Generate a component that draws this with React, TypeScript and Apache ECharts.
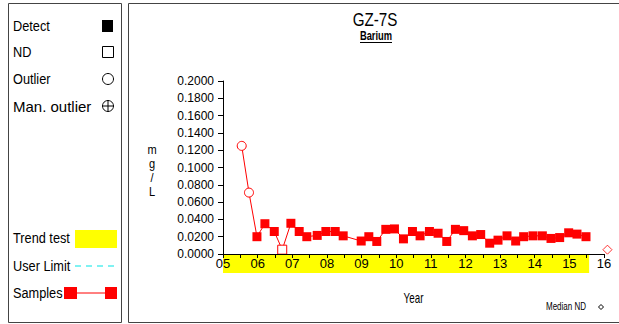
import React, { useEffect, useRef } from "react";
import * as echarts from "echarts";

// ---- data ----
const sampleDates = [
  2005.54, 2005.75, 2005.98, 2006.21, 2006.48, 2006.71, 2006.96, 2007.2, 2007.42, 2007.72,
  2007.97, 2008.24, 2008.47, 2008.99, 2009.21, 2009.44, 2009.7, 2009.95, 2010.21, 2010.47,
  2010.69, 2010.96, 2011.21, 2011.46, 2011.71, 2011.95, 2012.2, 2012.44, 2012.7, 2012.94,
  2013.2, 2013.45, 2013.68, 2013.95, 2014.22, 2014.47, 2014.72, 2014.98, 2015.22, 2015.48,
];
const sampleValues = [
  0.125, 0.071, 0.02, 0.035, 0.026, 0.005, 0.0355, 0.026, 0.02, 0.0215,
  0.026, 0.026, 0.021, 0.015, 0.02, 0.0145, 0.0285, 0.029, 0.0175, 0.026,
  0.021, 0.026, 0.024, 0.0145, 0.0285, 0.027, 0.021, 0.0225, 0.0125, 0.016,
  0.021, 0.015, 0.02, 0.021, 0.021, 0.018, 0.019, 0.0245, 0.023, 0.02,
];
// D = detect, N = non-detect, O = outlier
const sampleKinds = [
  "O", "O", "D", "D", "D", "N", "D", "D", "D", "D",
  "D", "D", "D", "D", "D", "D", "D", "D", "D", "D",
  "D", "D", "D", "D", "D", "D", "D", "D", "D", "D",
  "D", "D", "D", "D", "D", "D", "D", "D", "D", "D",
];
const medianND = [2016.1, 0.005];
const trendRange = [2005.0, 2015.57];
const xMin = 2005;
const xMax = 2016;
const yMin = 0;
const yMax = 0.2;
const title = "GZ-7S";
const subtitle = "Barium";
const yAxisName = "m\ng\n/\nL";
const xAxisName = "Year";
const legendLabels = ["Detect", "ND", "Outlier", "Man. outlier", "Trend test", "User Limit", "Samples"];

const RED = "#ff0000";
const ARIAL = '"Liberation Sans", Arial, sans-serif';

function txt(
  text: string,
  x: number,
  y: number,
  font: string,
  sx = 1,
  align = "left",
  extra: any = {}
) {
  return {
    type: "text",
    z: 20,
    x,
    y,
    scaleX: sx,
    style: {
      text,
      x: 0,
      y: 0,
      font,
      fill: "#000",
      align,
      textAlign: align,
      verticalAlign: "middle",
      textVerticalAlign: "middle",
      ...extra,
    },
  };
}

export default function App() {
  const ref = useRef<HTMLDivElement>(null);
  useEffect(() => {
    if (!ref.current) return;
    const chart = echarts.init(ref.current, null, { renderer: "svg" });

    const lineData = sampleDates.map((d, i) => {
      const k = sampleKinds[i];
      if (k === "O") {
        return {
          value: [d, sampleValues[i]],
          symbol: "circle",
          symbolSize: 9,
          itemStyle: { color: "#fff", borderColor: RED, borderWidth: 1 },
        };
      }
      if (k === "N") {
        return {
          value: [d, sampleValues[i]],
          symbol: "rect",
          symbolSize: 9,
          itemStyle: { color: "#fff", borderColor: RED, borderWidth: 1 },
        };
      }
      return {
        value: [d, sampleValues[i]],
        symbol: "rect",
        symbolSize: 9,
        itemStyle: { color: RED, borderColor: RED, borderWidth: 0 },
      };
    });

    chart.setOption({
      animation: false,
      backgroundColor: "#fff",
      grid: { left: 223, top: 81, width: 381, height: 173, containLabel: false },
      xAxis: {
        type: "value",
        min: xMin,
        max: xMax,
        interval: 0.5,
        z: 10,
        axisLine: { show: true, lineStyle: { color: "#000", width: 1 } },
        axisTick: { show: true, length: 4, lineStyle: { color: "#000" } },
        splitLine: { show: false },
        axisLabel: {
          margin: 3,
          color: "#000",
          fontFamily: ARIAL,
          fontSize: 13,
          showMinLabel: true,
          showMaxLabel: true,
          formatter: (v: number) =>
            Math.abs(v - Math.round(v)) < 1e-6 ? String(Math.round(v) % 100).padStart(2, "0") : "",
        },
      },
      yAxis: {
        type: "value",
        min: yMin,
        max: yMax,
        interval: 0.02,
        z: 10,
        axisLine: { show: true, lineStyle: { color: "#000", width: 1 } },
        axisTick: { show: true, length: 5, lineStyle: { color: "#000" } },
        splitLine: { show: false },
        axisLabel: {
          margin: 9,
          color: "#000",
          fontFamily: ARIAL,
          fontSize: 12,
          formatter: (v: number) => v.toFixed(4),
        },
      },
      series: [
        {
          type: "line",
          data: lineData,
          showSymbol: true,
          showAllSymbol: true,
          clip: false,
          z: 5,
          lineStyle: { color: RED, width: 1 },
          itemStyle: { color: RED },
        },
        {
          type: "scatter",
          data: [medianND],
          symbol: "diamond",
          symbolSize: 9,
          clip: false,
          z: 5,
          itemStyle: { color: "#fff", borderColor: RED, borderWidth: 1 },
        },
      ],
    });

    const p0 = chart.convertToPixel({ gridIndex: 0 }, [trendRange[0], yMin]) as number[];
    const p1 = chart.convertToPixel({ gridIndex: 0 }, [trendRange[1], yMin]) as number[];
    const plotLeft = chart.convertToPixel({ gridIndex: 0 }, [xMin, yMin]) as number[];
    const plotRight = chart.convertToPixel({ gridIndex: 0 }, [xMax, yMin]) as number[];
    const plotCenterX = (plotLeft[0] + plotRight[0]) / 2;

    const graphics: any[] = [
      // panels
      { type: "rect", z: 1, shape: { x: 8.5, y: 3.5, width: 113, height: 319 }, style: { fill: "none", stroke: "#444", lineWidth: 1 } },
      { type: "rect", z: 1, shape: { x: 128.5, y: 3.5, width: 500, height: 319 }, style: { fill: "none", stroke: "#444", lineWidth: 1 } },
      // trend test band
      { type: "rect", z: 1, shape: { x: p0[0], y: p0[1], width: p1[0] - p0[0], height: 19 }, style: { fill: "#ffff00" } },
      // titles
      txt(title, 375, 19, `19px ${ARIAL}`, 0.8, "center"),
      txt(subtitle, 376, 36, `bold 12px ${ARIAL}`, 0.78, "center"),
      { type: "line", z: 20, shape: { x1: 360, y1: 42.5, x2: 392, y2: 42.5 }, style: { stroke: "#000", lineWidth: 1 } },
      // y axis name
      txt(yAxisName, 152, 171, `13px ${ARIAL}`, 0.85, "center", { lineHeight: 14 }),
      txt(xAxisName, plotCenterX, 298, `14px ${ARIAL}`, 0.7, "center"),
      txt("Median ND", 566, 307, `10px ${ARIAL}`, 0.8, "center"),
      { type: "polygon", z: 20, shape: { points: [[601, 304.5], [603.5, 307], [601, 309.5], [598.5, 307]] }, style: { fill: "#fff", stroke: "#000", lineWidth: 1 } },
      // legend
      txt(legendLabels[0], 13, 26, `15px ${ARIAL}`, 0.85),
      { type: "rect", z: 20, shape: { x: 102, y: 20, width: 11, height: 12 }, style: { fill: "#000" } },
      txt(legendLabels[1], 13, 52, `15px ${ARIAL}`, 0.85),
      { type: "rect", z: 20, shape: { x: 102.5, y: 46.5, width: 11, height: 11 }, style: { fill: "none", stroke: "#000", lineWidth: 1 } },
      txt(legendLabels[2], 13, 79, `15px ${ARIAL}`, 0.85),
      { type: "circle", z: 20, shape: { cx: 108, cy: 79, r: 5.5 }, style: { fill: "none", stroke: "#000", lineWidth: 1 } },
      txt(legendLabels[3], 13, 106, `15px ${ARIAL}`),
      { type: "circle", z: 20, shape: { cx: 108, cy: 106, r: 5.5 }, style: { fill: "none", stroke: "#000", lineWidth: 1 } },
      { type: "line", z: 20, shape: { x1: 102.5, y1: 106, x2: 113.5, y2: 106 }, style: { stroke: "#000", lineWidth: 1 } },
      { type: "line", z: 20, shape: { x1: 108, y1: 100.5, x2: 108, y2: 111.5 }, style: { stroke: "#000", lineWidth: 1 } },
      txt(legendLabels[4], 13, 238, `15px ${ARIAL}`, 0.85),
      { type: "rect", z: 20, shape: { x: 75, y: 230, width: 42, height: 18 }, style: { fill: "#ffff00" } },
      txt(legendLabels[5], 13, 266, `15px ${ARIAL}`, 0.85),
      { type: "line", z: 20, shape: { x1: 75, y1: 266, x2: 117, y2: 266 }, style: { stroke: "#00e5e5", lineWidth: 1, lineDash: [6, 5] } },
      txt(legendLabels[6], 13, 293, `15px ${ARIAL}`, 0.85),
      { type: "line", z: 20, shape: { x1: 70, y1: 293, x2: 111, y2: 293 }, style: { stroke: RED, lineWidth: 1 } },
      { type: "rect", z: 20, shape: { x: 64, y: 287, width: 13, height: 12 }, style: { fill: RED } },
      { type: "rect", z: 20, shape: { x: 105, y: 287, width: 12, height: 12 }, style: { fill: RED } },
    ];
    chart.setOption({ graphic: graphics });

    return () => chart.dispose();
  }, []);

  return (
    <div
      ref={ref}
      style={{ position: "fixed", left: 0, top: 0, width: 619, height: 324, background: "#fff" }}
    />
  );
}
